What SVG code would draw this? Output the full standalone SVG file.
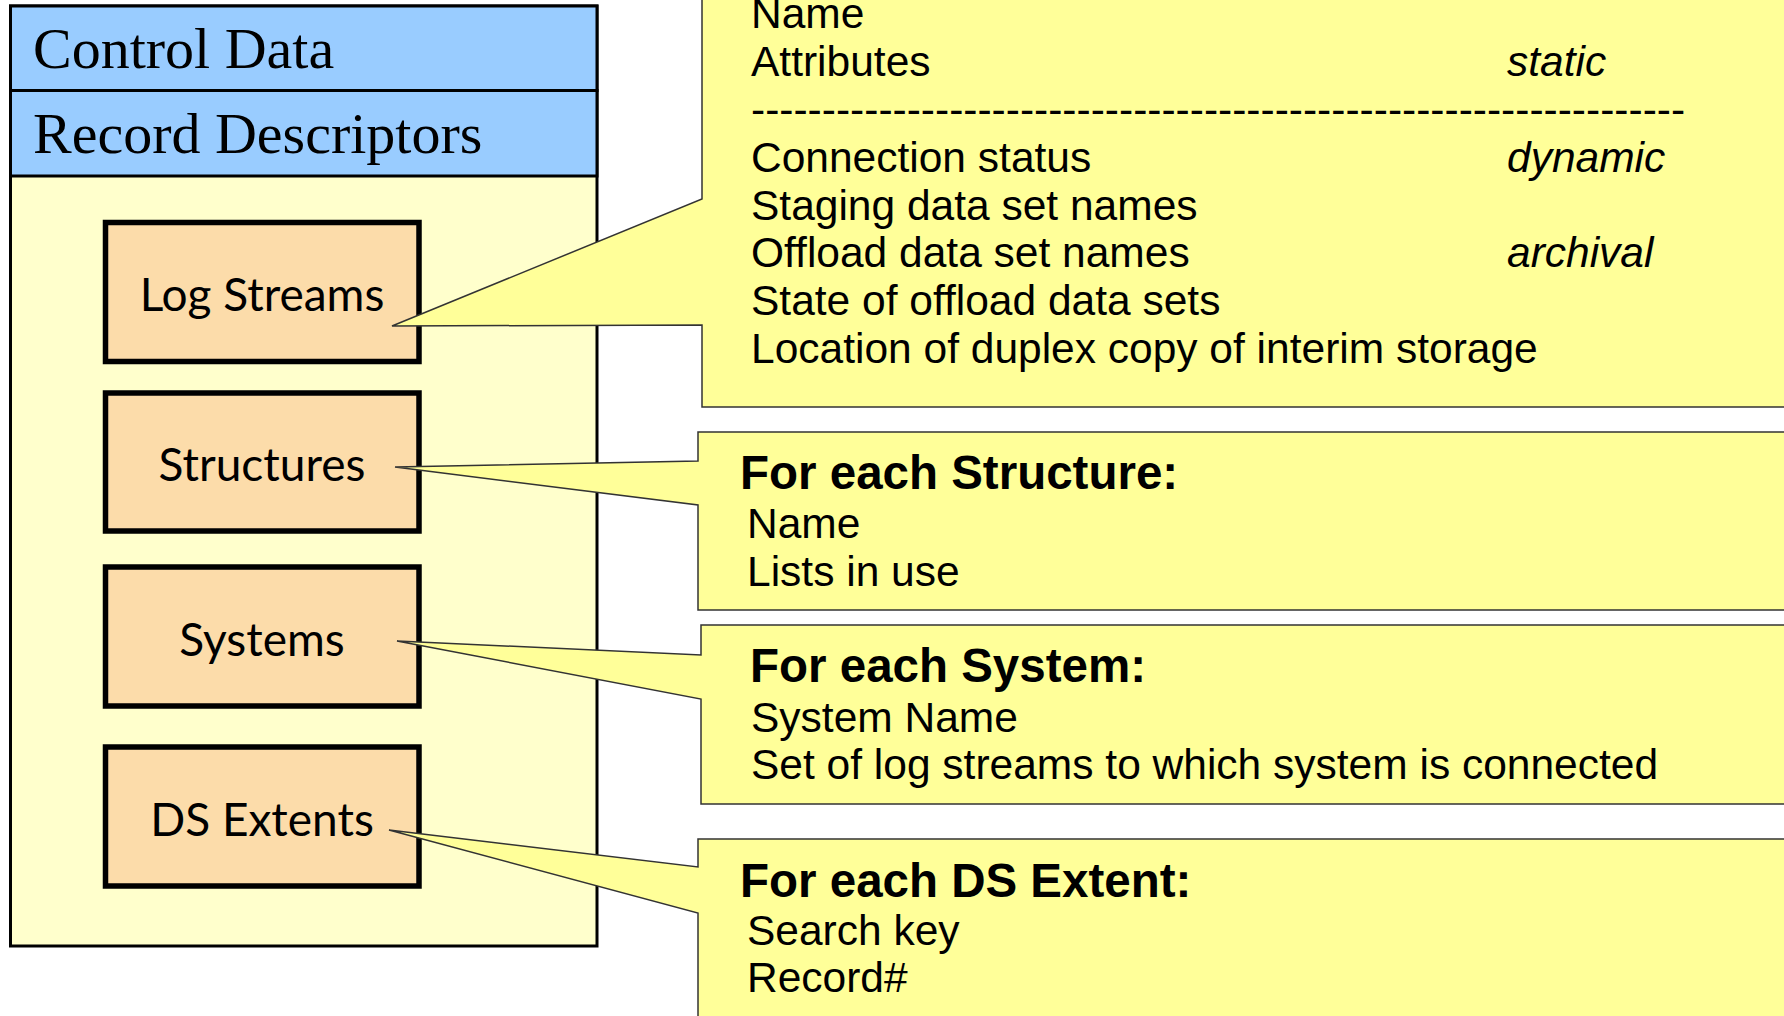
<svg xmlns="http://www.w3.org/2000/svg" width="1784" height="1016" viewBox="0 0 1784 1016">
<style>
.band{fill:#99CCFF;stroke:#000;stroke-width:3}
.panel{fill:#FFFFCC;stroke:#000;stroke-width:3}
.serif{font-family:"Liberation Serif","Times New Roman",serif;font-size:58px;fill:#000}
.box{fill:#FCDCAA;stroke:#000;stroke-width:5.5}
.boxt{font-family:Lato,"Noto Sans",sans-serif;font-size:46px;fill:#000;text-anchor:middle}
.call{fill:#FFFF99;stroke:#333;stroke-width:1.5;stroke-linejoin:miter}
.t{font-family:"Liberation Sans",Arial,sans-serif;font-size:42.5px;fill:#000}
.b{font-family:"Liberation Sans",Arial,sans-serif;font-size:47.5px;font-weight:bold;fill:#000}
.i{font-style:italic}
</style>
<rect width="1784" height="1016" fill="#FFFFFF"/>
<g id="record-panel">
<rect class="panel" x="10.5" y="6" width="586.5" height="940"/>
<rect class="band" x="10.5" y="6" width="586.5" height="84.5"/>
<rect class="band" x="10.5" y="90.5" width="586.5" height="85.5"/>
<text class="serif" x="33" y="68">Control Data</text>
<text class="serif" x="33" y="153">Record Descriptors</text>
</g>
<g id="node-logstreams">
<rect class="box" x="105.5" y="222.5" width="313.5" height="139"/>
<text class="boxt" x="262" y="311">Log Streams</text>
</g>
<g id="node-structures">
<rect class="box" x="105.5" y="393" width="313.5" height="138"/>
<text class="boxt" x="262" y="481">Structures</text>
</g>
<g id="node-systems">
<rect class="box" x="105.5" y="567" width="313.5" height="139"/>
<text class="boxt" x="262" y="656">Systems</text>
</g>
<g id="node-dsextents">
<rect class="box" x="105.5" y="747" width="313.5" height="139"/>
<text class="boxt" x="262" y="836">DS Extents</text>
</g>
<g id="connectors">
<g id="callout-logstreams">
<path class="call" d="M1800,-10 L702,-10 L702,199 L392,326 L702,325 L702,407 L1800,407 Z"/>
</g>
<g id="callout-structures">
<path class="call" d="M1800,432 L698,432 L698,461 L395,467 L698,505 L698,610 L1800,610 Z"/>
</g>
<g id="callout-systems">
<path class="call" d="M1800,625 L701,625 L701,655 L397,641 L701,699 L701,804 L1800,804 Z"/>
</g>
<g id="callout-dsextents">
<path class="call" d="M1800,839 L698,839 L698,867 L389,830 L698,913 L698,1030 L1800,1030 Z"/>
</g>
</g>
<g id="text-logstreams">
<text class="t" x="751" y="28.4">Name</text>
<text class="t" x="751" y="76.2">Attributes</text>
<text class="t i" x="1507" y="76.2">static</text>
<text class="t" x="751" y="124">------------------------------------------------------------------</text>
<text class="t" x="751" y="171.8">Connection status</text>
<text class="t i" x="1507" y="171.8">dynamic</text>
<text class="t" x="751" y="219.6">Staging data set names</text>
<text class="t" x="751" y="267.4">Offload data set names</text>
<text class="t i" x="1507" y="267.4">archival</text>
<text class="t" x="751" y="315.2">State of offload data sets</text>
<text class="t" x="751" y="363">Location of duplex copy of interim storage</text>
</g>
<g id="text-structures">
<text class="b" x="740" y="489">For each Structure:</text>
<text class="t" x="747" y="538">Name</text>
<text class="t" x="747" y="586">Lists in use</text>
</g>
<g id="text-systems">
<text class="b" x="750" y="682">For each System:</text>
<text class="t" x="751" y="732">System Name</text>
<text class="t" x="751" y="779">Set of log streams to which system is connected</text>
</g>
<g id="text-dsextents">
<text class="b" x="740" y="897">For each DS Extent:</text>
<text class="t" x="747" y="945">Search key</text>
<text class="t" x="747" y="992">Record#</text>
</g>
</svg>
